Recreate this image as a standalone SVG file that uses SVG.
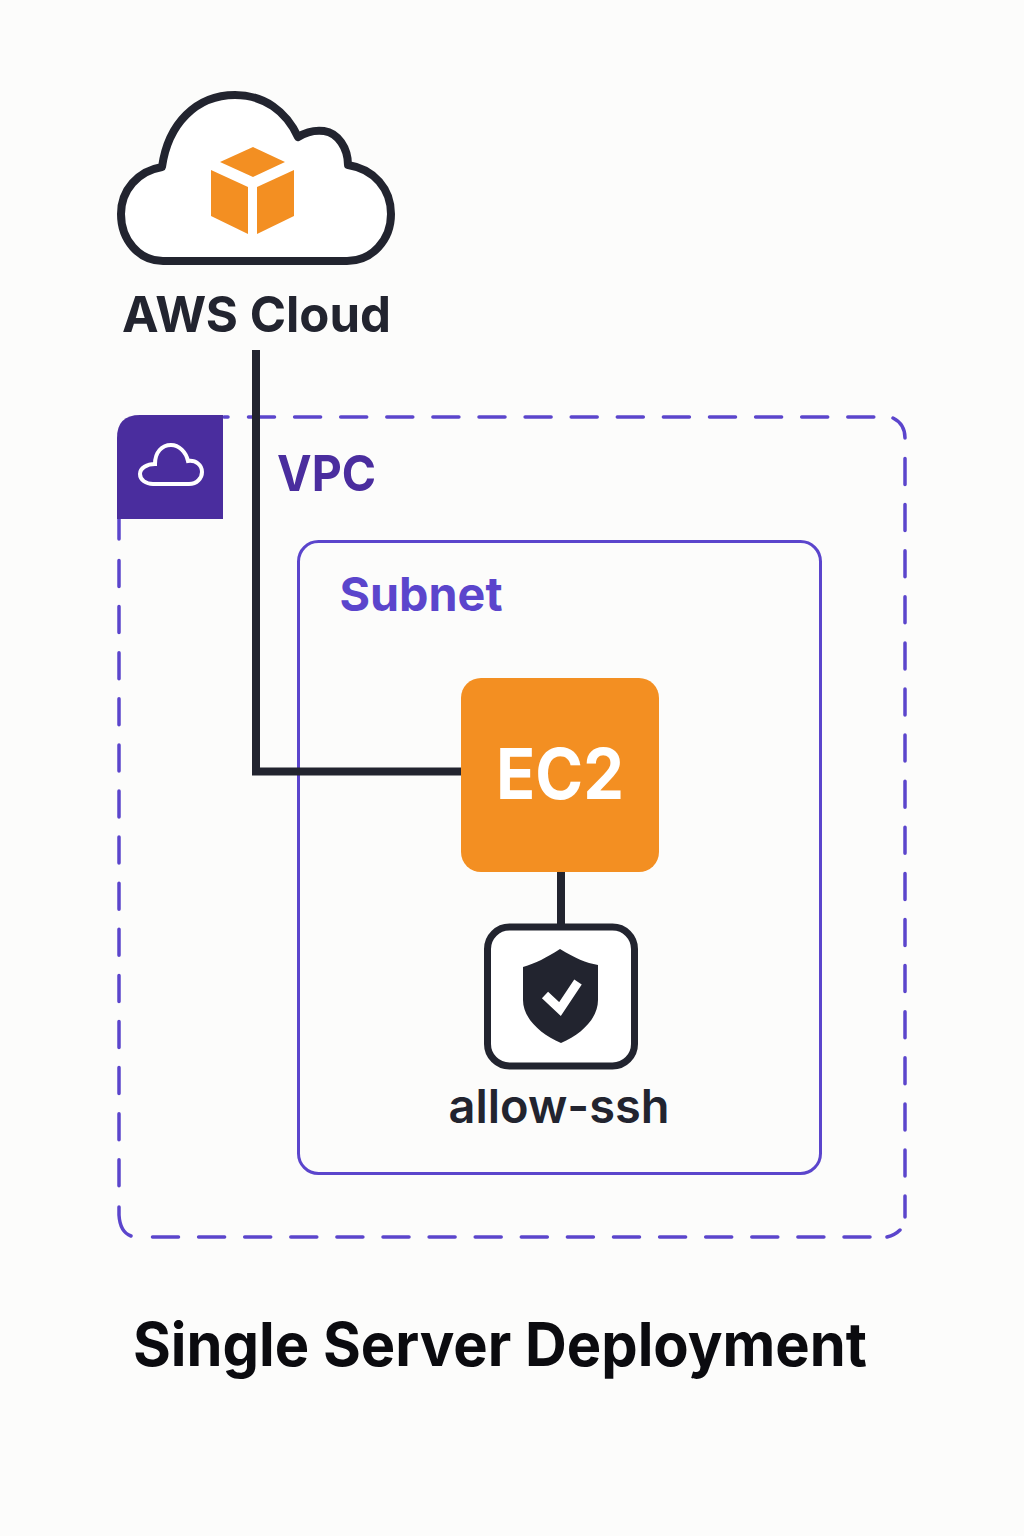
<svg xmlns="http://www.w3.org/2000/svg" width="1024" height="1536" viewBox="0 0 1024 1536">
<style>
text{font-family:Inter,"Liberation Sans",sans-serif}
.dark{stroke:#22242f;fill:none}
.dash{stroke:#5b45cc;stroke-width:3.5;fill:none;stroke-linecap:round}
.d{stroke-dasharray:26 20.1}
</style>
<rect width="1024" height="1536" fill="#fcfcfb"/>
<g id="vpc">
<path class="dash" d="M224 417H228M893 418Q905 424 905 438M905 1196V1217M900 1230Q895 1235 887 1237M131 1236Q120 1232 119 1215V1207M119 519V539"/>
<path class="dash d" d="M248.500 417H877"/>
<path class="dash d" d="M905 458.500V1180"/>
<path class="dash d" d="M152.500 1237H870"/>
<path class="dash d" d="M119 560.500V1186"/>
<path fill="#4a2d9e" d="M223 415H140Q117 415 117 438V519H223Z"/>
<path fill="none" stroke="#fff" stroke-width="4" d="M153 484H189C197 484 202 478 202 472C202 465 196 460 188 461C186 452 179 445 171 445C162 445 155 452 155 464C147 464 140 468 140 474C140 480 146 484 153 484Z"/>
<text x="277" y="491" font-size="50" font-weight="700" fill="#4a2d9e" textLength="99" lengthAdjust="spacingAndGlyphs">VPC</text>
</g>
<g id="subnet">
<rect x="298.500" y="541.500" width="522" height="632" rx="20" fill="none" stroke="#5b45cc" stroke-width="3"/>
<text x="339.500" y="611" font-size="47" font-weight="700" fill="#5b45cc" textLength="163" lengthAdjust="spacingAndGlyphs">Subnet</text>
</g>
<g id="connectors">
<path class="dark" stroke-width="8" d="M256 350V771.500H462"/>
<path class="dark" stroke-width="8" d="M561 870V926"/>
</g>
<g id="aws-cloud">
<path fill="#fff" stroke="#22242f" stroke-width="8" stroke-linejoin="round" d="M162 167C168 124 196 95 235 95C264 95 286 111 298 137C306 132 316 130 324 131C338 133 348 148 348 165C374 169 391 189 391 214C391 240 372 261 347 261H163C139 261 121 240 121 214C121 190 138 171 162 167Z"/>
<path fill="#f38f22" d="M253 147L285 162L253 177L220 162Z"/>
<path fill="#f38f22" d="M211 170L248 187V234L211 216Z"/>
<path fill="#f38f22" d="M294 170L257 187V234L294 216Z"/>
<text x="122" y="332" font-size="50" font-weight="700" fill="#22242f" textLength="269" lengthAdjust="spacingAndGlyphs">AWS Cloud</text>
</g>
<g id="ec2">
<rect x="461" y="678" width="198" height="194" rx="20" fill="#f38f22"/>
<text x="560" y="799" font-size="70" font-weight="700" fill="#fff" text-anchor="middle" textLength="128" lengthAdjust="spacingAndGlyphs">EC2</text>
</g>
<g id="allow-ssh">
<rect x="487.500" y="927" width="147" height="139" rx="22" fill="#fff" stroke="#22242f" stroke-width="7"/>
<path fill="#22242f" d="M560 949C575 958 586 963 598 965V1000C598 1018 582 1034 561 1043C540 1034 523 1018 523 1000V967C536 963 546 958 560 949Z"/>
<path fill="none" stroke="#fff" stroke-width="9" d="M545 995L560 1009L578 982"/>
<text x="559" y="1123" font-size="47" font-weight="600" fill="#22242f" text-anchor="middle" textLength="221" lengthAdjust="spacingAndGlyphs">allow-ssh</text>
</g>
<g id="title">
<text x="133" y="1366" font-size="60" font-weight="700" fill="#0b0b0f" textLength="734" lengthAdjust="spacingAndGlyphs">Single Server Deployment</text>
</g>
</svg>
